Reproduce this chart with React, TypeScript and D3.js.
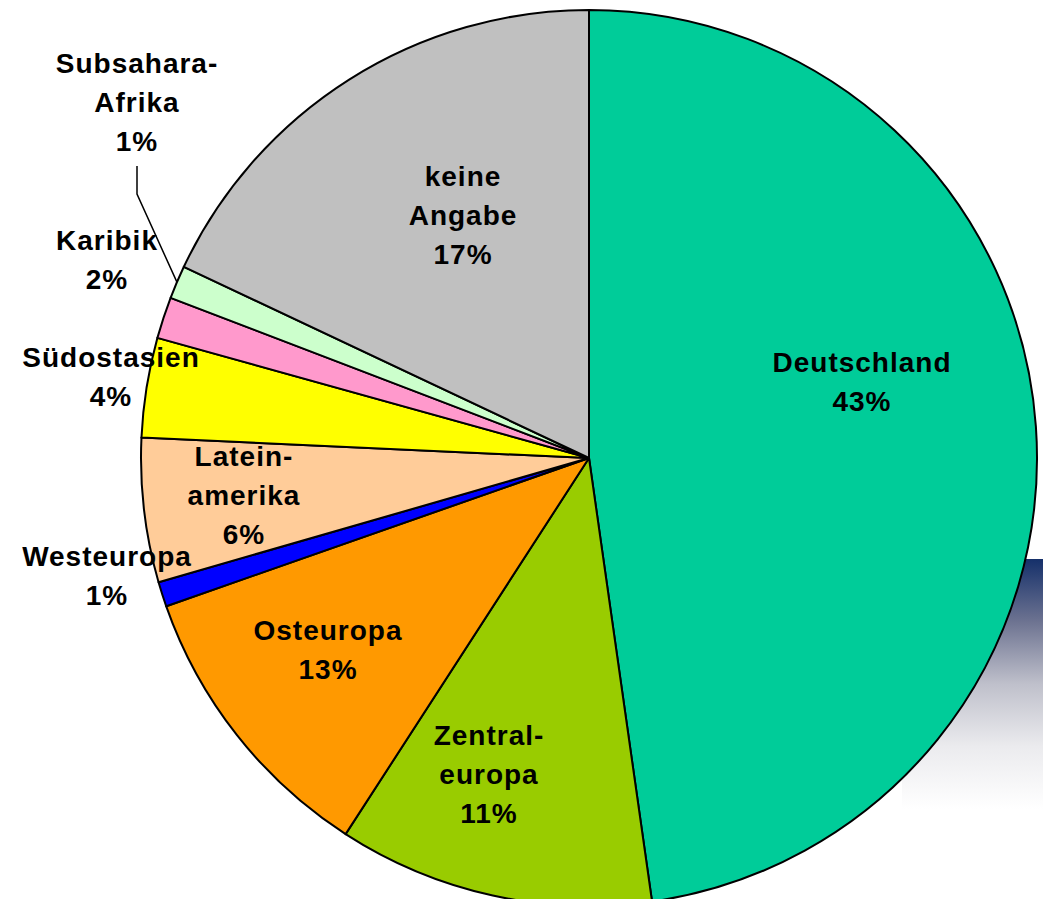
import React from "react";
import * as d3 from "d3";

// Data
const categories = [
  "Deutschland",
  "Zentraleuropa",
  "Osteuropa",
  "Westeuropa",
  "Lateinamerika",
  "Südostasien",
  "Karibik",
  "Subsahara-Afrika",
  "keine Angabe",
];
// slice shares as drawn
const shares = [47.8, 11.4, 10.5, 0.9, 5.2, 3.6, 1.5, 1.2, 18.0];
// label lines as printed
const labelLines = [
  ["Deutschland", "43%"],
  ["Zentral-", "europa", "11%"],
  ["Osteuropa", "13%"],
  ["Westeuropa", "1%"],
  ["Latein-", "amerika", "6%"],
  ["Südostasien", "4%"],
  ["Karibik", "2%"],
  ["Subsahara-", "Afrika", "1%"],
  ["keine", "Angabe", "17%"],
];
const colors = [
  "#00CC99",
  "#99CC00",
  "#FF9900",
  "#0000FF",
  "#FFCC99",
  "#FFFF00",
  "#FF99CC",
  "#CCFFCC",
  "#C0C0C0",
];

// layout (offsets from pie centre to label centre / first baseline)
const labelOffsets: [number, number][] = [
  [273, -86],
  [-100, 287],
  [-261, 182],
  [-482, 108],
  [-345, 8],
  [-478, -91],
  [-482, -208],
  [-452, -385],
  [-126, -272],
];

const W = 1043;
const H = 899;
const cx = 589;
const cy = 458;
const R = 448;
const lineH = 39;

export default function App() {
  const pie = d3
    .pie<number>()
    .sort(null)
    .value((d) => d)
    .startAngle(0)
    .endAngle(2 * Math.PI);
  const arcs = pie(shares);
  const arc = d3.arc<d3.PieArcDatum<number>>().innerRadius(0).outerRadius(R);

  // leader line for Subsahara-Afrika
  const sub = arcs[7];
  const mid = (sub.startAngle + sub.endAngle) / 2;
  const ex = Math.sin(mid) * R;
  const ey = -Math.cos(mid) * R;
  const [lx, ly] = labelOffsets[7];
  const leader = d3.line()([
    [lx, ly + 2 * lineH + 15],
    [lx, ly + 2 * lineH + 43],
    [ex, ey],
  ]);

  return (
    <svg
      width={W}
      height={H}
      style={{ position: "absolute", left: 0, top: 0, background: "#fff" }}
      fontFamily="'Liberation Sans', Arial, sans-serif"
    >
      <defs>
        <linearGradient id="bg" x1="0" y1="0" x2="0" y2="1">
          <stop offset="0" stopColor="#15306a" />
          <stop offset="0.25" stopColor="#6d7391" />
          <stop offset="0.5" stopColor="#bfc0cb" />
          <stop offset="0.75" stopColor="#ebebee" />
          <stop offset="1" stopColor="#ffffff" />
        </linearGradient>
      </defs>
      <rect x={902} y={559} width={W - 902} height={250} fill="url(#bg)" />
      <g transform={`translate(${cx},${cy})`}>
        {arcs.map((a, i) => (
          <path
            key={categories[i]}
            d={arc(a) || ""}
            fill={colors[i]}
            stroke="#000"
            strokeWidth={2}
            strokeLinejoin="round"
          />
        ))}
        <path d={leader || ""} fill="none" stroke="#000" strokeWidth={1.5} />
        {labelLines.map((lines, i) => (
          <text
            key={categories[i]}
            x={labelOffsets[i][0]}
            y={labelOffsets[i][1]}
            textAnchor="middle"
            fontSize={28}
            fontWeight="bold"
            letterSpacing={1}
            fill="#000"
          >
            {lines.map((l, j) => (
              <tspan key={j} x={labelOffsets[i][0]} dy={j === 0 ? 0 : lineH}>
                {l}
              </tspan>
            ))}
          </text>
        ))}
      </g>
    </svg>
  );
}
